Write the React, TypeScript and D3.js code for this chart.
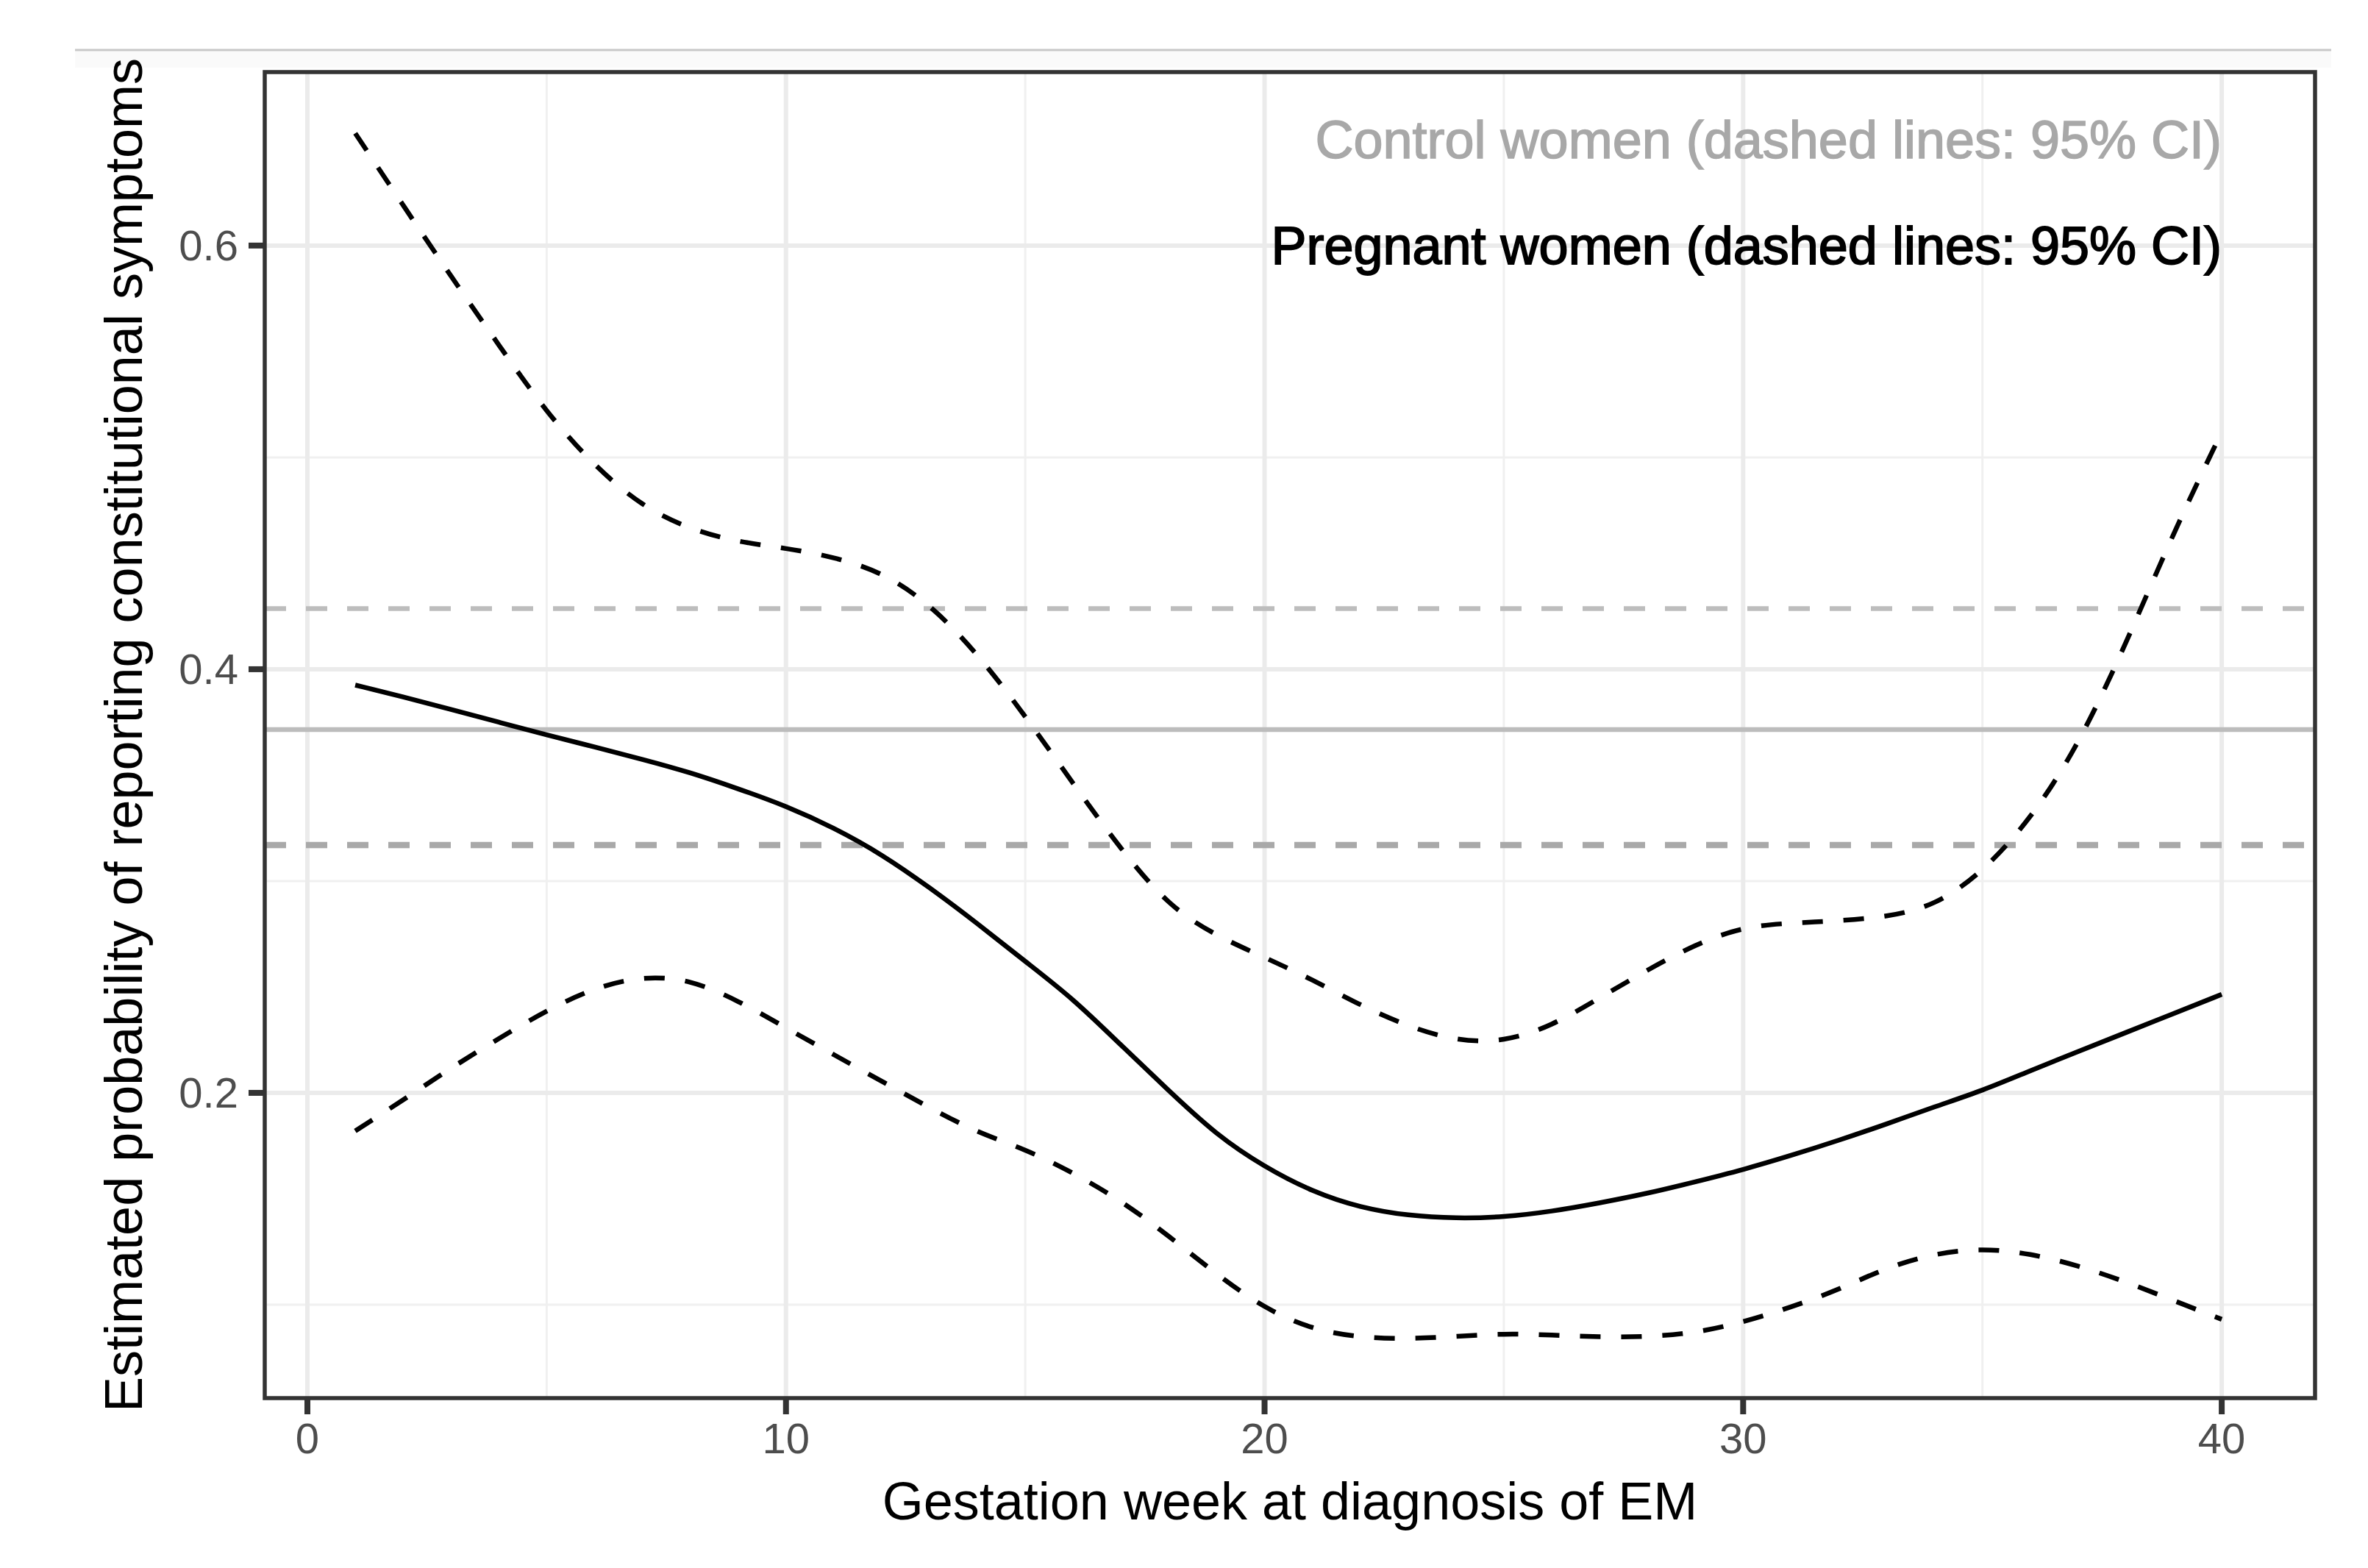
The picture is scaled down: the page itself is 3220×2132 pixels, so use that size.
import { useRef, useEffect } from 'react';
import * as d3 from 'd3';

// gestation weeks where the model was evaluated
const weeks = d3.range(1, 41);

// pregnant women: estimated probability and 95% CI
const estimate = [
  0.3925, 0.387, 0.381, 0.375, 0.369, 0.3633, 0.3575, 0.3513, 0.3436, 0.3355,
  0.3252, 0.3127, 0.297, 0.280, 0.262, 0.2445, 0.2225, 0.201, 0.180, 0.165,
  0.1533, 0.1458, 0.142, 0.1407, 0.1413, 0.144, 0.148, 0.1525, 0.158, 0.1637,
  0.1704, 0.1776, 0.1853, 0.1935, 0.201, 0.2105, 0.2195, 0.2285, 0.2375, 0.2465,
];
const upperCI = [
  0.653, 0.619, 0.5855, 0.553, 0.521, 0.4958, 0.4767, 0.466, 0.46, 0.4572,
  0.453, 0.446, 0.431, 0.4075, 0.378, 0.346, 0.3148, 0.288, 0.274, 0.264,
  0.2535, 0.2413, 0.2313, 0.2245, 0.224, 0.2315, 0.2448, 0.2581, 0.2701, 0.2785,
  0.2802, 0.2812, 0.283, 0.2882, 0.304, 0.329, 0.3637, 0.412, 0.465, 0.512,
];
const lowerCI = [
  0.182, 0.1966, 0.2118, 0.2257, 0.239, 0.2497, 0.2552, 0.2536, 0.2436, 0.2307,
  0.218, 0.2055, 0.193, 0.1812, 0.1735, 0.1623, 0.1492, 0.1325, 0.1142, 0.0982,
  0.0882, 0.0845, 0.0838, 0.085, 0.0864, 0.0857, 0.0847, 0.0848, 0.0866, 0.0917,
  0.0988, 0.107, 0.1177, 0.1242, 0.1267, 0.1242, 0.1185, 0.1108, 0.1019, 0.0931,
];

// control women: constant probability and 95% CI
const controlEstimate = 0.3715;
const controlLower = 0.317;
const controlUpper = 0.4286;

const xTicks = [0, 10, 20, 30, 40];
const xMinor = [5, 15, 25, 35];
const yTicks = [0.2, 0.4, 0.6];
const yMinor = [0.1, 0.3, 0.5];

const xTitle = 'Gestation week at diagnosis of EM';
const yTitle = 'Estimated probability of reporting constitutional symptoms';
const controlLabel = 'Control women (dashed lines: 95% CI)';
const pregnantLabel = 'Pregnant women (dashed lines: 95% CI)';

const W = 3220;
const H = 2132;
const FONT = '"Liberation Sans", Arial, Helvetica, sans-serif';

export default function App() {
  const svgRef = useRef<SVGSVGElement | null>(null);

  useEffect(() => {
    const margin = { top: 98, right: 72, bottom: 231, left: 360 };
    const x0 = margin.left;
    const x1 = W - margin.right;
    const y0 = margin.top;
    const y1 = H - margin.bottom;

    d3.select(svgRef.current).selectAll('*').remove();
    const svg = d3.select(svgRef.current).attr('width', W).attr('height', H);

    svg.append('rect').attr('width', W).attr('height', H).attr('fill', '#fff');

    // thin rule across the top of the figure
    svg.append('rect')
      .attr('x', 102).attr('y', 70).attr('width', 3068).attr('height', 22)
      .attr('fill', '#fafafa');
    svg.append('line')
      .attr('x1', 102).attr('x2', 3170).attr('y1', 68).attr('y2', 68)
      .attr('stroke', '#c8c8c8').attr('stroke-width', 3);

    const x = d3.scaleLinear().domain([-0.891, 41.95]).range([x0, x1]);
    const y = d3.scaleLinear().domain([0.0559, 0.6819]).range([y1, y0]);

    const g = svg.append('g');

    // minor grid
    xMinor.forEach(v => {
      g.append('line')
        .attr('x1', x(v)).attr('x2', x(v)).attr('y1', y0).attr('y2', y1)
        .attr('stroke', '#f0f0f0').attr('stroke-width', 3);
    });
    yMinor.forEach(v => {
      g.append('line')
        .attr('x1', x0).attr('x2', x1).attr('y1', y(v)).attr('y2', y(v))
        .attr('stroke', '#f0f0f0').attr('stroke-width', 3);
    });
    // major grid
    xTicks.forEach(v => {
      g.append('line')
        .attr('x1', x(v)).attr('x2', x(v)).attr('y1', y0).attr('y2', y1)
        .attr('stroke', '#ebebeb').attr('stroke-width', 6);
    });
    yTicks.forEach(v => {
      g.append('line')
        .attr('x1', x0).attr('x2', x1).attr('y1', y(v)).attr('y2', y(v))
        .attr('stroke', '#ebebeb').attr('stroke-width', 6);
    });

    // control women
    g.append('line')
      .attr('x1', x0).attr('x2', x1)
      .attr('y1', y(controlEstimate)).attr('y2', y(controlEstimate))
      .attr('stroke', '#bcbcbc').attr('stroke-width', 6.5);
    g.append('line')
      .attr('x1', x0).attr('x2', x1)
      .attr('y1', y(controlUpper)).attr('y2', y(controlUpper))
      .attr('stroke', '#bdbdbd').attr('stroke-width', 6.5)
      .attr('stroke-dasharray', '29,27');
    g.append('line')
      .attr('x1', x0).attr('x2', x1)
      .attr('y1', y(controlLower)).attr('y2', y(controlLower))
      .attr('stroke', '#a9a9a9').attr('stroke-width', 8.5)
      .attr('stroke-dasharray', '29,27');

    // pregnant women
    const line = d3.line<number>()
      .x((_, i) => x(weeks[i]))
      .y(d => y(d))
      .curve(d3.curveBasis);

    g.append('path')
      .attr('d', line(upperCI))
      .attr('fill', 'none').attr('stroke', '#000').attr('stroke-width', 6.5)
      .attr('stroke-dasharray', '28,28');
    g.append('path')
      .attr('d', line(lowerCI))
      .attr('fill', 'none').attr('stroke', '#000').attr('stroke-width', 6.5)
      .attr('stroke-dasharray', '28,28');
    g.append('path')
      .attr('d', line(estimate))
      .attr('fill', 'none').attr('stroke', '#000').attr('stroke-width', 6.5);

    // annotations
    g.append('text')
      .attr('x', x(40)).attr('y', y(0.65))
      .attr('text-anchor', 'end').attr('dominant-baseline', 'central')
      .style('font-family', FONT).style('font-size', '72px')
      .attr('fill', '#a8a8a8').attr('stroke', '#a8a8a8').attr('stroke-width', 1.5)
      .text(controlLabel);
    g.append('text')
      .attr('x', x(40)).attr('y', y(0.6))
      .attr('text-anchor', 'end').attr('dominant-baseline', 'central')
      .style('font-family', FONT).style('font-size', '72px')
      .attr('fill', '#000').attr('stroke', '#000').attr('stroke-width', 1.8)
      .text(pregnantLabel);

    // panel border
    svg.append('rect')
      .attr('x', x0).attr('y', y0).attr('width', x1 - x0).attr('height', y1 - y0)
      .attr('fill', 'none').attr('stroke', '#333333').attr('stroke-width', 5.5);

    // axes ticks and labels
    xTicks.forEach(v => {
      svg.append('line')
        .attr('x1', x(v)).attr('x2', x(v)).attr('y1', y1).attr('y2', y1 + 22)
        .attr('stroke', '#333333').attr('stroke-width', 8);
      svg.append('text')
        .attr('x', x(v)).attr('y', y1 + 75)
        .attr('text-anchor', 'middle')
        .style('font-family', FONT).style('font-size', '58px')
        .attr('fill', '#4d4d4d')
        .text(d3.format('d')(v));
    });
    yTicks.forEach(v => {
      svg.append('line')
        .attr('x1', x0 - 22).attr('x2', x0).attr('y1', y(v)).attr('y2', y(v))
        .attr('stroke', '#333333').attr('stroke-width', 8);
      svg.append('text')
        .attr('x', x0 - 36).attr('y', y(v))
        .attr('text-anchor', 'end').attr('dominant-baseline', 'central')
        .style('font-family', FONT).style('font-size', '58px')
        .attr('fill', '#4d4d4d')
        .text(d3.format('.1f')(v));
    });

    // axis titles
    svg.append('text')
      .attr('x', (x0 + x1) / 2).attr('y', 2066)
      .attr('text-anchor', 'middle')
      .style('font-family', FONT).style('font-size', '72px')
      .attr('fill', '#000')
      .text(xTitle);
    svg.append('text')
      .attr('transform', `translate(193, ${(y0 + y1) / 2}) rotate(-90)`)
      .attr('text-anchor', 'middle')
      .style('font-family', FONT).style('font-size', '72px')
      .attr('fill', '#000')
      .text(yTitle);
  }, []);

  return (
    <div style={{ position: 'absolute', left: 0, top: 0 }}>
      <svg ref={svgRef} style={{ display: 'block' }}></svg>
    </div>
  );
}
